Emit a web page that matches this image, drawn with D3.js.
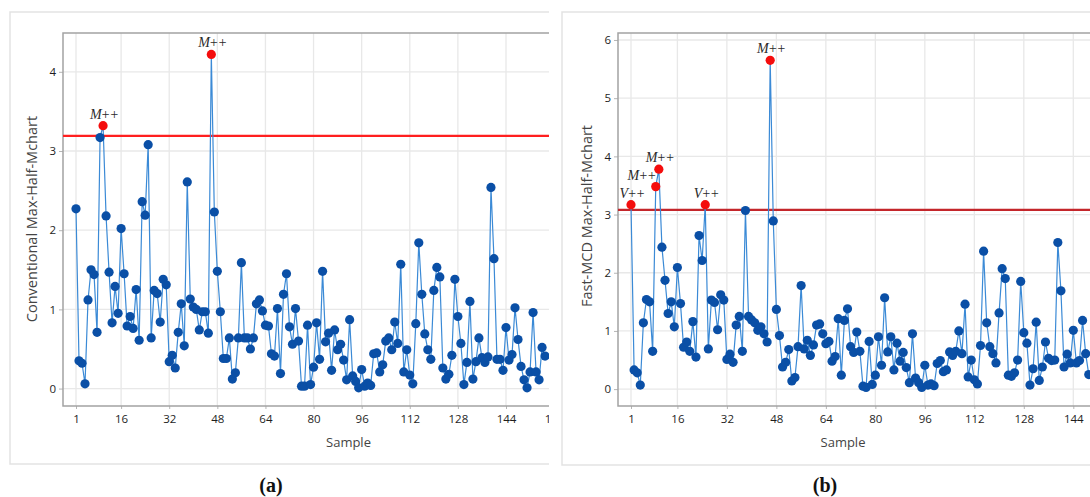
<!DOCTYPE html>
<html>
<head>
<meta charset="utf-8">
<script src="https://cdn.jsdelivr.net/npm/d3@7"></script>
<style>
  body { margin: 0; background: #fff; }
  svg { display: block; }
</style>
</head>
<body>
<script>
/* Define width and height */
var width = 1090,
    height = 497;

/* Sample axis ticks */
var convXTicks = [1, 16, 32, 48, 64, 80, 96, 112, 128, 144, 160];
var fastXTicks = [1, 16, 32, 48, 64, 80, 96, 112, 128, 144];

/* Panel (a): conventional chart */
var convValues = [
  2.27, 0.35, 0.32, 0.06, 1.12, 1.50, 1.44, 0.71, 3.17, 3.32,
  2.18, 1.47, 0.83, 1.29, 0.95, 2.02, 1.45, 0.79, 0.91, 0.76,
  1.25, 0.61, 2.36, 2.19, 3.08, 0.64, 1.24, 1.20, 0.84, 1.38,
  1.31, 0.34, 0.42, 0.26, 0.71, 1.07, 0.54, 2.61, 1.13, 1.03,
  1.00, 0.74, 0.97, 0.97, 0.70, 4.22, 2.23, 1.48, 0.97, 0.38,
  0.38, 0.64, 0.12, 0.20, 0.64, 1.59, 0.64, 0.64, 0.50, 0.64,
  1.07, 1.12, 0.98, 0.80, 0.79, 0.44, 0.41, 1.01, 0.19, 1.19,
  1.45, 0.78, 0.56, 1.01, 0.60, 0.03, 0.03, 0.80, 0.05, 0.27,
  0.83, 0.37, 1.48, 0.59, 0.70, 0.23, 0.74, 0.49, 0.56, 0.36,
  0.11, 0.87, 0.16, 0.09, 0.01, 0.24, 0.03, 0.07, 0.04, 0.44,
  0.45, 0.21, 0.30, 0.60, 0.64, 0.49, 0.84, 0.57, 1.57, 0.21,
  0.49, 0.17, 0.06, 0.82, 1.84, 1.19, 0.69, 0.49, 0.37, 1.24,
  1.53, 1.41, 0.26, 0.12, 0.18, 0.42, 1.38, 0.91, 0.57, 0.05,
  0.33, 1.10, 0.12, 0.34, 0.64, 0.39, 0.33, 0.40, 2.54, 1.64,
  0.37, 0.37, 0.23, 0.77, 0.36, 0.43, 1.02, 0.62, 0.28, 0.11,
  0.01, 0.21, 0.96, 0.21, 0.11, 0.52, 0.41
];
var convLimit = 3.19;
var convSignals = [10, 46];
var convSignalLabels = ["M++", "M++"];
var convYTicks = [0, 1, 2, 3, 4];

/* Panel (b): Fast-MCD chart */
var fastValues = [
  3.17, 0.33, 0.28, 0.07, 1.14, 1.54, 1.50, 0.65, 3.48, 3.78,
  2.44, 1.87, 1.30, 1.50, 1.07, 2.09, 1.47, 0.72, 0.81, 0.65,
  1.16, 0.55, 2.64, 2.21, 3.17, 0.69, 1.53, 1.49, 1.02, 1.62,
  1.53, 0.51, 0.60, 0.46, 1.10, 1.25, 0.65, 3.07, 1.25, 1.19,
  1.14, 1.01, 1.07, 0.95, 0.81, 5.65, 2.89, 1.37, 0.92, 0.38,
  0.46, 0.68, 0.14, 0.20, 0.73, 1.78, 0.69, 0.84, 0.58, 0.76,
  1.10, 1.12, 0.95, 0.78, 0.82, 0.48, 0.56, 1.21, 0.24, 1.18,
  1.38, 0.73, 0.63, 0.98, 0.65, 0.05, 0.03, 0.82, 0.08, 0.24,
  0.90, 0.41, 1.57, 0.64, 0.90, 0.33, 0.79, 0.48, 0.63, 0.37,
  0.11, 0.95, 0.19, 0.11, 0.03, 0.41, 0.07, 0.09, 0.06, 0.44,
  0.49, 0.30, 0.33, 0.64, 0.58, 0.65, 1.00, 0.61, 1.46, 0.21,
  0.50, 0.16, 0.09, 0.75, 2.37, 1.14, 0.73, 0.61, 0.45, 1.31,
  2.07, 1.90, 0.24, 0.22, 0.28, 0.50, 1.85, 0.97, 0.79, 0.07,
  0.35, 1.15, 0.15, 0.38, 0.81, 0.53, 0.49, 0.50, 2.52, 1.69,
  0.38, 0.60, 0.45, 1.01, 0.45, 0.49, 1.18, 0.61, 0.25
];
var fastLimit = 3.08;
var fastSignals = [1, 9, 10, 25, 46];
var fastSignalLabels = ["V++", "M++", "M++", "V++", "M++"];
var fastYTicks = [0, 1, 2, 3, 4, 5, 6];

/* Define and append svg */
var svg = d3.select("body").append("svg")
    .attr("width", width)
    .attr("height", height);

var defs = svg.append("defs");

/* Draws one control chart panel */
function drawPanel(p) {
    var root = svg.append("g");
    if (p.clipRight) {
        defs.append("clipPath").attr("id", p.id + "-clip")
          .append("rect")
            .attr("x", 0).attr("y", 0)
            .attr("width", p.clipRight).attr("height", height);
        root.attr("clip-path", "url(#" + p.id + "-clip)");
    }

    // outer light frame
    root.append("rect")
        .attr("x", p.frame[0]).attr("y", p.frame[1])
        .attr("width", p.frame[2]).attr("height", p.frame[3])
        .attr("fill", "none")
        .attr("stroke", "#e3e3e3")
        .attr("stroke-width", 1.5);

    var x = d3.scaleLinear().domain([1, 144]).range(p.xRange);
    var y = d3.scaleLinear().domain(p.yDomain).range([p.bottom, p.top]);

    // grid
    var grid = root.append("g");
    grid.selectAll("line.h").data(p.yTicks).enter().append("line")
        .attr("x1", p.left).attr("x2", p.right)
        .attr("y1", function(d) { return y(d); })
        .attr("y2", function(d) { return y(d); })
        .attr("stroke", "#e8e8e8").attr("stroke-width", 1.3);
    grid.selectAll("line.v").data(p.xTicks).enter().append("line")
        .attr("x1", function(d) { return x(d); })
        .attr("x2", function(d) { return x(d); })
        .attr("y1", p.top).attr("y2", p.bottom)
        .attr("stroke", "#e8e8e8").attr("stroke-width", 1.3);

    // axes
    var yAxis = d3.axisLeft(y).tickValues(p.yTicks)
        .tickFormat(d3.format("d")).tickSize(4).tickPadding(3);
    var gy = root.append("g")
        .attr("transform", "translate(" + p.left + ",0)")
        .call(yAxis);
    var xAxis = d3.axisBottom(x).tickValues(p.xTicks)
        .tickFormat(d3.format("d")).tickSize(3).tickPadding(6);
    var gx = root.append("g")
        .attr("transform", "translate(0," + p.bottom + ")")
        .call(xAxis);
    [gx, gy].forEach(function(g) {
        g.select(".domain").remove();
        g.selectAll(".tick line").attr("stroke", "#b5b5b5");
        g.selectAll(".tick text")
            .attr("fill", "#1e1e1e")
            .style("font-family", "'Open Sans', sans-serif")
            .style("font-size", "11.5px");
    });

    // plot borders: top, left, bottom
    root.append("path")
        .attr("d", "M" + p.right + "," + p.top + "H" + p.left + "V" + p.bottom + "H" + p.right)
        .attr("fill", "none")
        .attr("stroke", "#a3a3a3")
        .attr("stroke-width", 1.5);

    // axis titles
    root.append("text")
        .attr("x", (p.left + p.right) / 2 + p.sampleShift)
        .attr("y", p.bottom + 41)
        .attr("text-anchor", "middle")
        .attr("fill", "#444")
        .style("font-family", "'Open Sans', sans-serif")
        .style("font-size", "13px")
        .text("Sample");
    root.append("text")
        .attr("transform", "translate(" + p.yTitleX + "," + p.yTitleY + ") rotate(-90)")
        .attr("text-anchor", "middle")
        .attr("fill", "#444")
        .style("font-family", "'Open Sans', sans-serif")
        .style("font-size", "14.5px")
        .text(p.yTitle);

    // control limit
    root.append("line")
        .attr("x1", p.left).attr("x2", p.right)
        .attr("y1", y(p.limit)).attr("y2", y(p.limit))
        .attr("stroke", p.limitColor)
        .attr("stroke-width", 2.2);

    // series line
    var line = d3.line()
        .x(function(d, i) { return x(i + 1); })
        .y(function(d) { return y(d); });
    root.append("path")
        .datum(p.values)
        .attr("d", line)
        .attr("fill", "none")
        .attr("stroke", "#3b8ad6")
        .attr("stroke-width", 1.2);

    // points
    root.append("g").selectAll("circle")
        .data(p.values).enter().append("circle")
        .attr("cx", function(d, i) { return x(i + 1); })
        .attr("cy", function(d) { return y(d); })
        .attr("r", 4.6)
        .attr("fill", function(d, i) {
            return p.signals.indexOf(i + 1) >= 0 ? "#f40d0d" : "#0a4fa6";
        });

    // signal labels
    root.append("g").selectAll("text")
        .data(p.signals).enter().append("text")
        .attr("x", function(d) { return x(d) + (p.anchors[d] === "end" ? 0 : 1); })
        .attr("y", function(d) { return y(p.values[d - 1]) - 7; })
        .attr("text-anchor", function(d) { return p.anchors[d] || "middle"; })
        .attr("fill", "#2a2a2a")
        .style("font-family", "'Liberation Serif', serif")
        .style("font-style", "italic")
        .style("font-size", "14px")
        .style("letter-spacing", "-0.8px")
        .text(function(d, i) { return p.labels[i]; });

    // panel caption
    svg.append("text")
        .attr("x", p.captionX)
        .attr("y", 492)
        .attr("text-anchor", "middle")
        .attr("fill", "#111")
        .style("font-family", "'Liberation Serif', serif")
        .style("font-weight", "bold")
        .style("font-size", "20px")
        .text(p.caption);
}

drawPanel({
    id: "conv",
    clipRight: 549,
    frame: [10, 12, 600, 452],
    left: 63, right: 620, top: 33, bottom: 406,
    xRange: [76, 506],
    xTicks: convXTicks,
    yDomain: [-0.22, 4.49],
    yTicks: convYTicks,
    values: convValues,
    limit: convLimit,
    limitColor: "#ff1f1f",
    signals: convSignals,
    labels: convSignalLabels,
    anchors: {},
    yTitle: "Conventional Max-Half-Mchart",
    yTitleX: 37, yTitleY: 219,
    sampleShift: 7,
    caption: "(a)", captionX: 271
});

drawPanel({
    id: "fast",
    clipRight: null,
    frame: [562, 12, 600, 453],
    left: 618, right: 1140, top: 33, bottom: 406,
    xRange: [631, 1073.3],
    xTicks: fastXTicks,
    yDomain: [-0.29, 6.12],
    yTicks: fastYTicks,
    values: fastValues,
    limit: fastLimit,
    limitColor: "#c4262b",
    signals: fastSignals,
    labels: fastSignalLabels,
    anchors: { 9: "end" },
    yTitle: "Fast-MCD Max-Half-Mchart",
    yTitleX: 592, yTitleY: 216,
    sampleShift: -36,
    caption: "(b)", captionX: 825
});
</script>
</body>
</html>
